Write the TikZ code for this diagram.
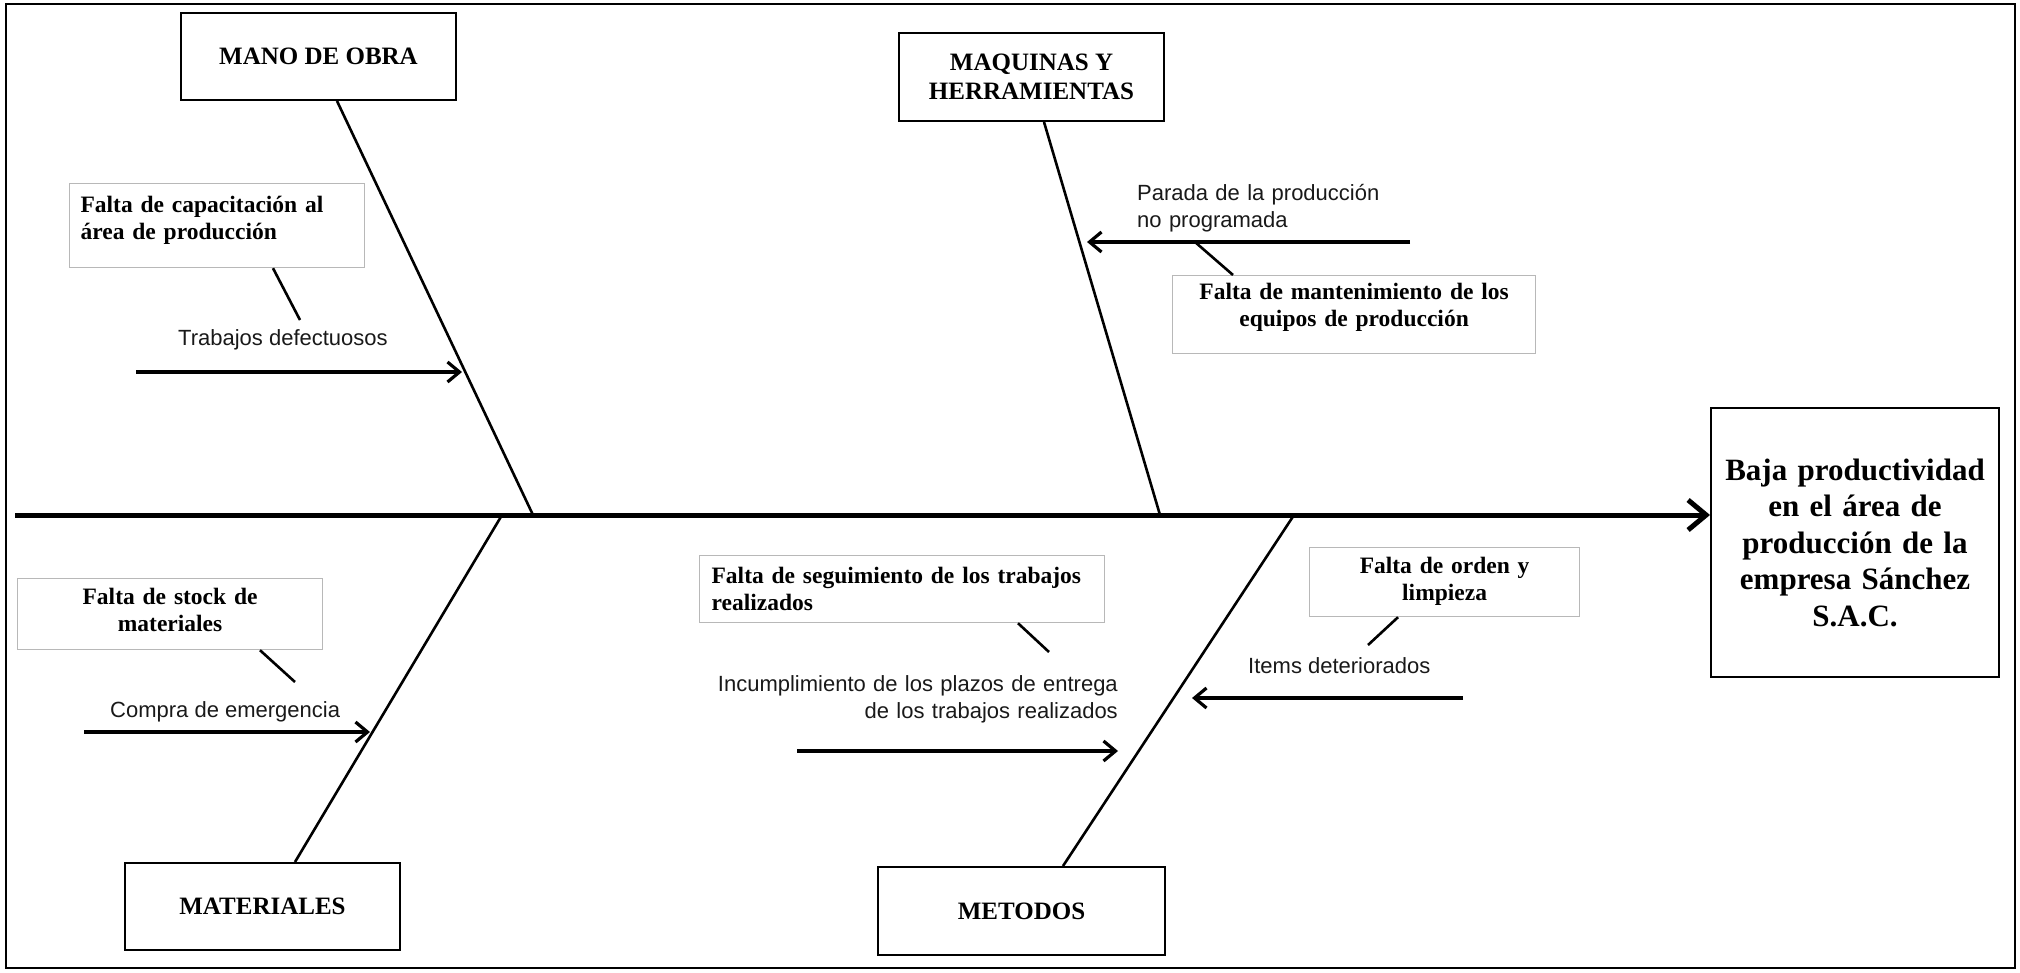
\documentclass[tikz,border=0pt]{standalone}
\usepackage{fontspec}
\setmainfont{Liberation Serif}
\newfontfamily\labelfont{Liberation Sans}
\usetikzlibrary{arrows.meta}

\begin{document}
\begin{tikzpicture}[x=1pt,y=-1pt,
  catbox/.style={draw=black, line width=2pt, align=center, inner sep=0pt,
    font=\bfseries\fontsize{25}{29}\selectfont},
  causebox/.style={draw=black!28, line width=1.2pt, anchor=north west,
    inner xsep=11pt, inner ysep=0pt,
    font=\bfseries\fontsize{23.5}{27}\selectfont},
  effbox/.style={draw=black, line width=2pt, anchor=north west, align=center,
    inner xsep=6pt, inner ysep=0pt,
    font=\bfseries\fontsize{31}{36.5}\selectfont},
  lbl/.style={inner sep=0pt, text=black!90,
    font=\labelfont\fontsize{22}{27}\selectfont},
  branch/.style={line width=2.6pt},
  tick/.style={line width=2.6pt},
  causearrow/.style={line width=3.2pt, -{Straight Barb[length=12pt,width=20pt]}},
  spine/.style={line width=5pt, -{Straight Barb[length=18pt,width=30pt]}},
]
\useasboundingbox (0,0) rectangle (2020,972);
\draw[line width=1.5pt] (6,4) rectangle (2015,968);

% effect
\node[effbox, text width=276pt, minimum width=288pt, minimum height=269pt] (eff) at (1710,407)
  {Baja productividad\\en el área de\\producción de la\\empresa Sánchez\\S.A.C.};

% spine
\coordinate (tail) at (15,515);
\draw[spine] (tail) -- (tail -| eff.west);

% category boxes
\node[catbox, minimum width=275pt, minimum height=87pt] (mano) at (318.5,56.5) {MANO DE OBRA};
\node[catbox, minimum width=265pt, minimum height=88pt] (maq) at (1031.5,77) {MAQUINAS Y\\HERRAMIENTAS};
\node[catbox, minimum width=275pt, minimum height=87pt] (mat) at (262.5,906.5) {MATERIALES};
\node[catbox, minimum width=287pt, minimum height=88pt] (met) at (1021.5,911) {METODOS};

% junctions on the spine
\coordinate (jMano) at (533,515);
\coordinate (jMaq) at (1160,515);
\coordinate (jMat) at (502,515);
\coordinate (jMet) at (1294,515);

\draw[branch] ([xshift=18.5pt]mano.south) -- (jMano);
\draw[branch] ([xshift=12.5pt]maq.south) -- (jMaq);
\draw[branch] ([xshift=32.5pt]mat.north) -- (jMat);
\draw[branch] ([xshift=41.5pt]met.north) -- (jMet);

% root causes
\node[causebox, align=left, text width=273pt, text height=29pt, text depth=55pt] (capa) at (69,183)
  {Falta de capacitación al\\área de producción};
\node[causebox, align=center, text width=341pt, text height=24pt, text depth=54pt] (mant) at (1172,275)
  {Falta de mantenimiento de los\\equipos de producción};
\node[causebox, align=center, text width=283pt, text height=26pt, text depth=45pt] (stock) at (17,578)
  {Falta de stock de\\materiales};
\node[causebox, inner xsep=12pt, align=left, text width=381pt, text height=28pt, text depth=39pt] (segu) at (699,555)
  {Falta de seguimiento de los trabajos\\realizados};
\node[causebox, align=center, text width=248pt, text height=26pt, text depth=43pt] (orden) at (1309,547)
  {Falta de orden y\\limpieza};

% effects of each cause
\node[lbl, anchor=base west] (lTrab) at (178,345) {Trabajos defectuosos};
\node[lbl, anchor=base west, text width=300pt, align=left] (lPar) at (1137,200)
  {Parada de la producción\\no programada};
\node[lbl, anchor=base west] (lComp) at (110,717) {Compra de emergencia};
\node[lbl, anchor=base east, text width=420pt, align=right] (lInc) at (1118,691)
  {Incumplimiento de los plazos de entrega\\de los trabajos realizados};
\node[lbl, anchor=base west] (lItems) at (1248,673) {Items deteriorados};

% arrows into the branches
\coordinate (aTrabS) at (136,372);  \coordinate (aTrabE) at (462,372);
\coordinate (aParS) at (1410,242);  \coordinate (aParE) at (1087,242);
\coordinate (aCompS) at (84,732);   \coordinate (aCompE) at (370,732);
\coordinate (aIncS) at (797,751);   \coordinate (aIncE) at (1118,751);
\coordinate (aItS) at (1463,698);   \coordinate (aItE) at (1192,698);

\draw[causearrow] (aTrabS) -- (aTrabE);
\draw[causearrow] (aParS) -- (aParE);
\draw[causearrow] (aCompS) -- (aCompE);
\draw[causearrow] (aIncS) -- (aIncE);
\draw[causearrow] (aItS) -- (aItE);

% ticks linking causes to their effects
\coordinate (tCapa) at (300,320);
\coordinate (tMant) at (1195,242);
\coordinate (tStock) at (295,682);
\coordinate (tSegu) at (1049,652);
\coordinate (tOrden) at (1368,645);

\draw[tick] ([xshift=204pt]capa.south west) -- (tCapa);
\draw[tick] ([xshift=61pt]mant.north west) -- (tMant);
\draw[tick] ([xshift=243pt]stock.south west) -- (tStock);
\draw[tick] ([xshift=319pt]segu.south west) -- (tSegu);
\draw[tick] ([xshift=89pt]orden.south west) -- (tOrden);
\end{tikzpicture}
\end{document}
